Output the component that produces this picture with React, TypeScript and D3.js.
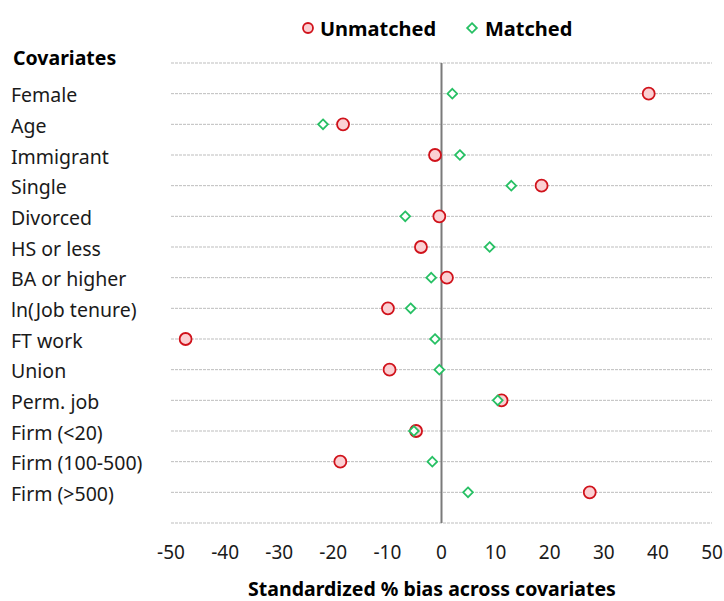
import React from "react";
import * as d3 from "d3";

const categories = [
  "Female", "Age", "Immigrant", "Single", "Divorced", "HS or less", "BA or higher",
  "ln(Job tenure)", "FT work", "Union", "Perm. job", "Firm (<20)", "Firm (100-500)", "Firm (>500)",
];
const unmatched = [38.3, -18.2, -1.2, 18.5, -0.4, -3.8, 1.0, -9.9, -47.3, -9.6, 11.1, -4.7, -18.7, 27.4];
const matched = [2.0, -21.9, 3.4, 12.9, -6.7, 8.9, -1.9, -5.7, -1.2, -0.4, 10.4, -5.1, -1.7, 4.9];
const xTicks = [-50, -40, -30, -20, -10, 0, 10, 20, 30, 40, 50];
const legendLabels = ["Unmatched", "Matched"];
const yTitle = "Covariates";
const xTitle = "Standardized % bias across covariates";

const W = 724;
const H = 601;
const FONT = "'Noto Sans', 'Open Sans', sans-serif";
const RED = "#d0121b";
const RED_FILL = "#fbd0d3";
const GREEN = "#27c064";

export default function App() {
  const x = d3.scaleLinear().domain([-50, 50]).range([171, 712]);
  const rowIdx = d3.range(categories.length + 2);
  const y = d3.scaleLinear().domain([0, categories.length + 1]).range([63, 523]);
  const diamond = d3.symbol().type(d3.symbolDiamond2).size(60)();

  return (
    <svg width={W} height={H} style={{ position: "absolute", left: 0, top: 0, background: "#fff" }}
      fontFamily={FONT}>
      {/* gridlines */}
      {rowIdx.map((i) => (
        <line key={"g" + i} x1={x(-50)} x2={x(50)} y1={y(i)} y2={y(i)}
          stroke="#bdbdbd" strokeWidth={1} strokeDasharray="3,1" />
      ))}
      {/* zero line */}
      <line x1={x(0)} x2={x(0)} y1={y(0)} y2={y(categories.length + 1)} stroke="#7a7a7a" strokeWidth={2} />
      {/* category labels */}
      <text x={13} y={57} dominantBaseline="central" fontSize={19.5} fontWeight="bold" fill="#000">{yTitle}</text>
      {categories.map((c, i) => (
        <text key={"c" + i} x={11} y={y(i + 1) + 1} dominantBaseline="central" fontSize={19.5} fill="#1a1a1a">{c}</text>
      ))}
      {/* markers */}
      {unmatched.map((v, i) => (
        <circle key={"u" + i} cx={x(v)} cy={y(i + 1)} r={6} fill={RED_FILL} stroke={RED} strokeWidth={1.8} />
      ))}
      {matched.map((v, i) => (
        <path key={"m" + i} d={diamond} transform={`translate(${x(v)},${y(i + 1)})`}
          fill="#fff" stroke={GREEN} strokeWidth={1.8} />
      ))}
      {/* x ticks */}
      {xTicks.map((t) => (
        <text key={"t" + t} x={x(t)} y={552} textAnchor="middle" dominantBaseline="central" fontSize={19} fill="#1a1a1a">
          {t}
        </text>
      ))}
      <text x={432} y={588} textAnchor="middle" dominantBaseline="central" fontSize={19.5} fontWeight="bold" fill="#000">
        {xTitle}
      </text>
      {/* legend */}
      <circle cx={308} cy={28} r={5} fill={RED_FILL} stroke={RED} strokeWidth={1.8} />
      <text x={320} y={28} dominantBaseline="central" fontSize={20} fontWeight="bold" fill="#000">{legendLabels[0]}</text>
      <path d={diamond} transform="translate(472,28)" fill="#fff" stroke={GREEN} strokeWidth={1.8} />
      <text x={485} y={28} dominantBaseline="central" fontSize={20} fontWeight="bold" fill="#000">{legendLabels[1]}</text>
    </svg>
  );
}
